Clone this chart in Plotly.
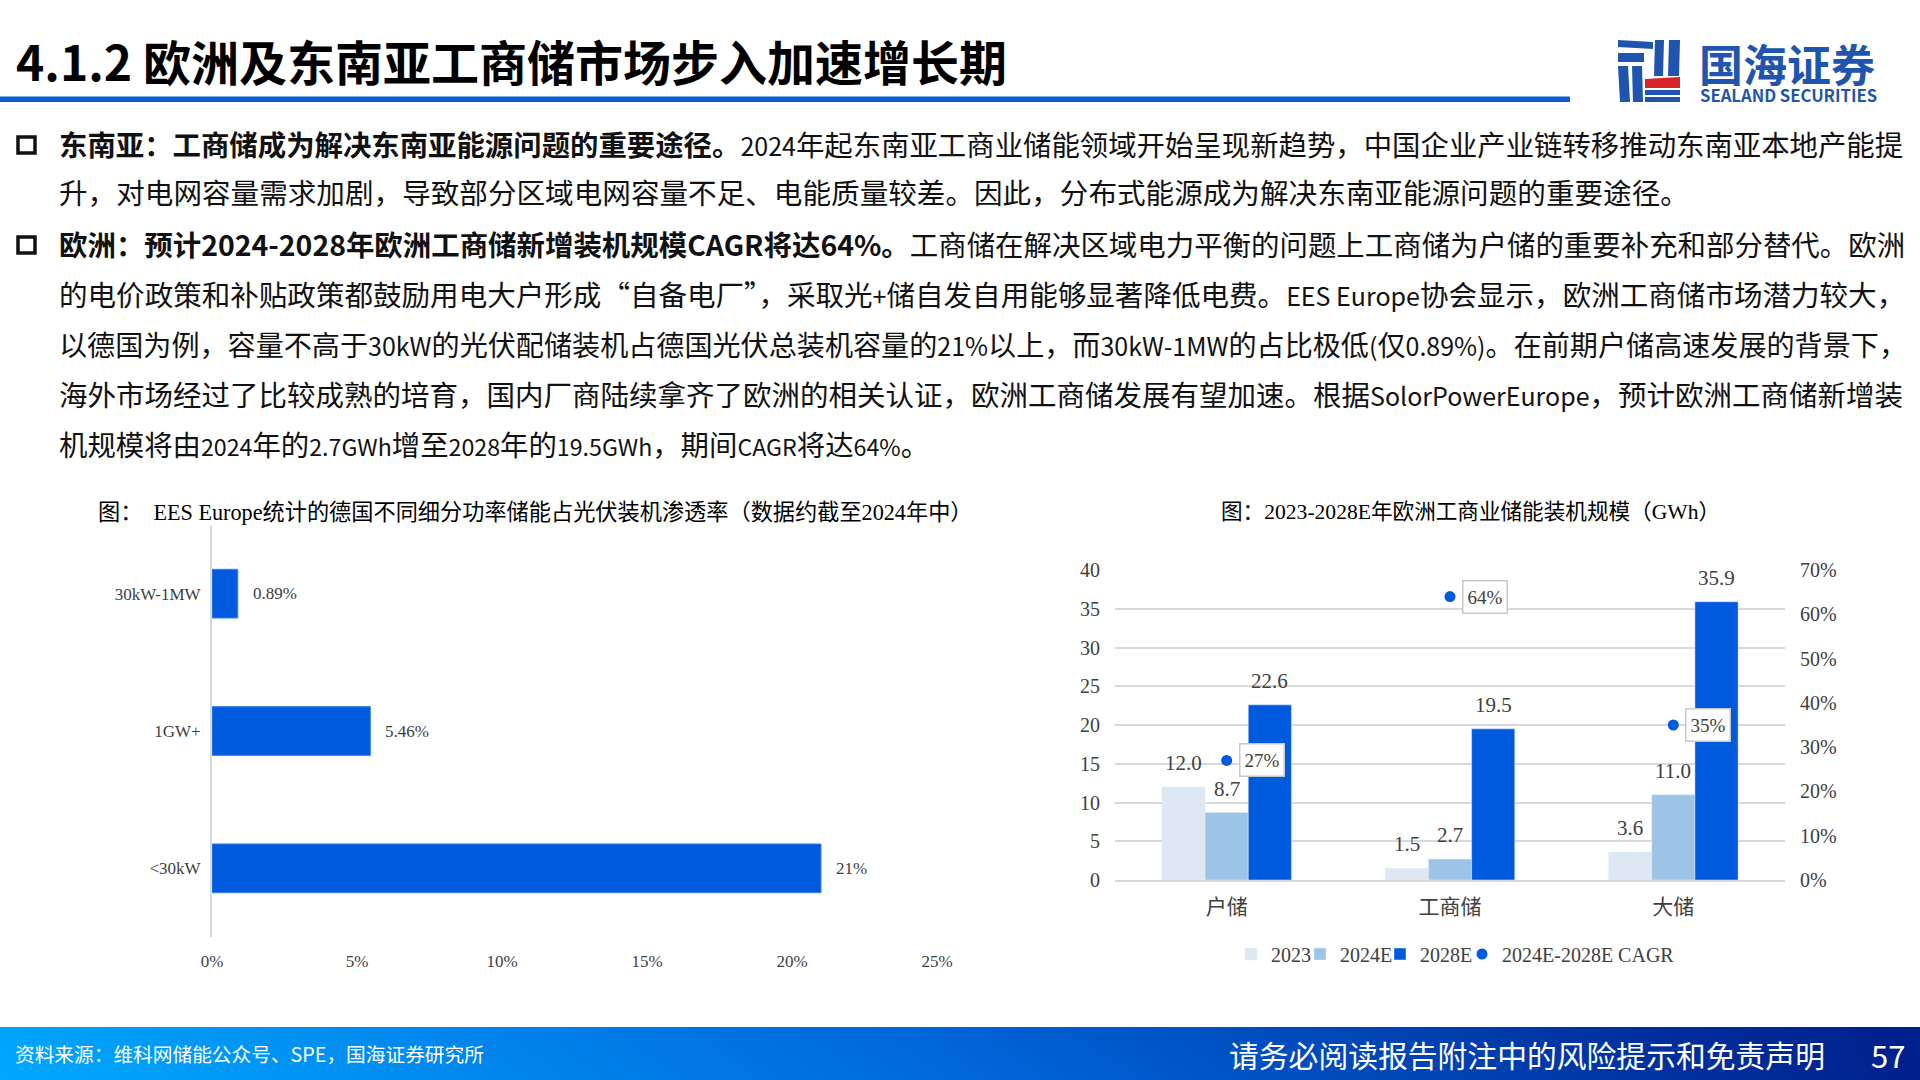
# plot.py
import re
import plotly.graph_objects as go

W, H = 1920, 1080
SANS = "Noto Sans CJK SC"
SONG = "Liberation Serif, Noto Sans CJK SC"
BLUE = "#005ADE"
MID_BLUE = "#9DC3E6"
PALE_BLUE = "#DEE8F5"
GRID = "#D9D9D9"
TEXT = "#404040"

# slide text
page_title = "4.1.2 欧洲及东南亚工商储市场步入加速增长期"
body_lines = [
    "<b>东南亚：工商储成为解决东南亚能源问题的重要途径。</b>2024年起东南亚工商业储能领域开始呈现新趋势，中国企业产业链转移推动东南亚本地产能提",
    "升，对电网容量需求加剧，导致部分区域电网容量不足、电能质量较差。因此，分布式能源成为解决东南亚能源问题的重要途径。",
    "<b>欧洲：预计2024-2028年欧洲工商储新增装机规模CAGR将达64%。</b>工商储在解决区域电力平衡的问题上工商储为户储的重要补充和部分替代。欧洲",
    "的电价政策和补贴政策都鼓励用电大户形成“自备电厂”，采取光+储自发自用能够显著降低电费。EES Europe协会显示，欧洲工商储市场潜力较大，",
    "以德国为例，容量不高于30kW的光伏配储装机占德国光伏总装机容量的21%以上，而30kW-1MW的占比极低(仅0.89%)。在前期户储高速发展的背景下，",
    "海外市场经过了比较成熟的培育，国内厂商陆续拿齐了欧洲的相关认证，欧洲工商储发展有望加速。根据SolorPowerEurope，预计欧洲工商储新增装",
    "机规模将由2024年的2.7GWh增至2028年的19.5GWh，期间CAGR将达64%。",
]
left_title = "图：  EES Europe统计的德国不同细分功率储能占光伏装机渗透率（数据约截至2024年中）"
right_title = "图：2023-2028E年欧洲工商业储能装机规模（GWh）"
source_text = "资料来源：维科网储能公众号、SPE，国海证券研究所"
disclaimer = "请务必阅读报告附注中的风险提示和免责声明"
page_number = "57"

# left chart
power_classes = ["<30kW", "1GW+", "30kW-1MW"]
penetration = [21, 5.46, 0.89]

# right chart
segments = ["户储", "工商储", "大储"]
years = ["2023", "2024E", "2028E"]
capacity_2023 = [12.0, 1.5, 3.6]
capacity_2024 = [8.7, 2.7, 11.0]
capacity_2028 = [22.6, 19.5, 35.9]
cagr_name = "2024E-2028E CAGR"
cagr = [27, 64, 35]

# footer gradient stops
footer_z = [[0, 0.12, 0.25, 0.38, 0.5, 0.62, 0.75, 0.88, 1],
            [0.04, 0.16, 0.29, 0.42, 0.54, 0.66, 0.79, 0.92, 1]]


def px(x):
    return x / W


def py(y):
    return 1 - y / H


def note(text, x, y, size, color="#000000", family=SANS, anchor="left"):
    return dict(text=text, x=px(x), y=py(y), xref="paper", yref="paper",
                xanchor=anchor, yanchor="middle", align=anchor, showarrow=False,
                font=dict(family=family, size=size, color=color))


def poly(points, color):
    path = "M" + " L".join("%.5f,%.5f" % (px(a), py(b)) for a, b in points) + " Z"
    return dict(type="path", xref="paper", yref="paper", path=path,
                fillcolor=color, line=dict(width=0), layer="above")


def narrow_latin(line, size):
    # latin runs in the regular part of a line are set narrower, as on the slide
    parts = re.split(r"(<b>.*?</b>)", line)
    out = []
    for part in parts:
        if part.startswith("<b>"):
            out.append(part)
        else:
            out.append(re.sub(r"[0-9A-Za-z.%+\-() ]+",
                              lambda m: '<span style="font-size:%spx">%s</span>' % (size, m.group(0)), part))
    return "".join(out)


fig = go.Figure()

# left chart
fig.add_trace(go.Bar(
    y=power_classes, x=penetration, orientation="h", width=0.355,
    marker=dict(color=BLUE, line=dict(color="#3D85E8", width=1)),
    showlegend=False, xaxis="x", yaxis="y",
))

# right chart, each entry has its own legend box so it can sit where the slide has it
bar_colors = [PALE_BLUE, MID_BLUE, BLUE]
bar_series = [capacity_2023, capacity_2024, capacity_2028]
legend_ids = ["legend", "legend2", "legend3"]
for name, vals, col, lg in zip(years, bar_series, bar_colors, legend_ids):
    fig.add_trace(go.Bar(
        x=segments, y=vals, name=name, marker=dict(color=col), legend=lg,
        xaxis="x2", yaxis="y2",
    ))
fig.add_trace(go.Scatter(
    x=segments, y=cagr, name=cagr_name, mode="markers", legend="legend4",
    marker=dict(color=BLUE, size=11), xaxis="x2", yaxis="y3",
))

# footer band
fig.add_trace(go.Heatmap(
    z=footer_z, zsmooth="best", showscale=False, hoverinfo="skip",
    colorscale=[[0, "#00A8FF"], [0.5, "#0068DC"], [1, "#00208C"]],
    xaxis="x3", yaxis="y4",
))

annotations = []

# page text
annotations.append(note("<b>" + page_title + "</b>", 14, 60, 48))
body_y = [143.5, 191.5, 244, 293.5, 343, 393, 443]
body_size = [28.4, 28.6, 28.45, 28.55, 28.1, 28.5, 28.4]
latin_size = [25, 25, 25, 25, 25, 25, 23.2]
for line, y, size, lsize in zip(body_lines, body_y, body_size, latin_size):
    annotations.append(note(narrow_latin(line, lsize), 57, y, size, color="#111111"))
annotations.append(note(left_title, 96, 512, 22.2, family=SONG))
annotations.append(note(right_title, 1219, 512, 21.6, family=SONG))
annotations.append(note(source_text, 13, 1053, 19.7, color="#FFFFFF"))
annotations.append(note(disclaimer, 1227, 1054, 29.8, color="#FFFFFF"))
annotations.append(note(page_number, 1869, 1054, 31, color="#FFFFFF"))

# logo text
annotations.append(note("<b>国海证券</b>", 1697, 63, 44, color="#1F55AE"))
annotations.append(note("<b>SEALAND SECURITIES</b>", 1698, 94.5, 16.7, color="#1F55AE"))

# left chart value labels
for cat, v in zip(power_classes, penetration):
    annotations.append(dict(
        text="%s%%" % v, x=v, y=cat, xref="x", yref="y", xanchor="left", yanchor="middle",
        xshift=13, showarrow=False, font=dict(family=SONG, size=17, color=TEXT),
    ))

# right chart value labels, one per bar
bar_step = 0.1935
for k, vals in enumerate(bar_series):
    for i, v in enumerate(vals):
        annotations.append(dict(
            text="%.1f" % v, x=i + (k - 1) * bar_step, y=v, xref="x2", yref="y2",
            xanchor="center", yanchor="bottom", yshift=10, showarrow=False,
            font=dict(family=SONG, size=21, color=TEXT),
        ))

# CAGR boxes
for i, v in enumerate(cagr):
    annotations.append(dict(
        text="%d%%" % v, x=i, y=v, xref="x2", yref="y3", xanchor="center", yanchor="middle",
        xshift=35, width=41, height=29, bgcolor="#FFFFFF", bordercolor="#C8C8C8", borderwidth=1.5,
        showarrow=False, font=dict(family=SONG, size=19, color=TEXT),
    ))

# title rule, bullets and logo mark
shapes = [
    dict(type="rect", xref="paper", yref="paper", x0=0, x1=px(1570), y0=py(102), y1=py(96.5),
         fillcolor="#0B5FD6", line=dict(width=0)),
]
for y in [145, 245]:
    shapes.append(dict(type="rect", xref="paper", yref="paper", x0=px(18), x1=px(35), y0=py(y + 8), y1=py(y - 8),
                       fillcolor="rgba(0,0,0,0)", line=dict(color="#111111", width=3.5)))

LOGO = "#1F55AE"
shapes += [
    poly([(1618, 40), (1653, 42), (1653, 49), (1618, 47)], LOGO),
    poly([(1618, 53), (1644, 53), (1644, 62), (1618, 62)], LOGO),
    poly([(1618, 66), (1628, 66), (1630, 102), (1620, 102)], LOGO),
    poly([(1632, 66), (1642, 66), (1643, 102), (1633, 102)], LOGO),
    poly([(1655, 40), (1664, 40), (1663, 76), (1654, 76)], LOGO),
    poly([(1669, 40), (1680, 40), (1679, 76), (1668, 76)], LOGO),
    poly([(1645, 79), (1680, 77), (1680, 88), (1645, 88)], "#D8232A"),
    poly([(1645, 90), (1680, 90), (1680, 95), (1645, 95)], LOGO),
    poly([(1645, 97), (1680, 97), (1680, 102), (1645, 102)], LOGO),
]


def legend_at(x):
    return dict(orientation="h", x=px(x), y=py(954), xanchor="left", yanchor="middle",
                font=dict(family=SONG, size=20, color=TEXT), bgcolor="rgba(0,0,0,0)")


fig.update_layout(
    width=W, height=H,
    margin=dict(l=0, r=0, t=0, b=0, autoexpand=False),
    paper_bgcolor="#FFFFFF", plot_bgcolor="#FFFFFF",
    barmode="group", bargap=0.42, bargroupgap=0,
    annotations=annotations, shapes=shapes,
    legend=legend_at(1231), legend2=legend_at(1300), legend3=legend_at(1380), legend4=legend_at(1462),
    # left chart axes
    xaxis=dict(domain=[px(212), px(937)], range=[0, 25], dtick=5, ticksuffix="%", showgrid=False,
               zeroline=False, anchor="y", ticklabelstandoff=12, fixedrange=True,
               tickfont=dict(family=SONG, size=17, color=TEXT)),
    yaxis=dict(domain=[py(937), py(525)], type="category", categoryorder="array",
               categoryarray=power_classes, showline=True, linecolor=GRID, linewidth=2,
               showgrid=False, anchor="x", ticklabelstandoff=6, fixedrange=True,
               tickfont=dict(family=SONG, size=17, color=TEXT)),
    # right chart axes
    xaxis2=dict(domain=[px(1115), px(1785)], anchor="y2", categoryorder="array", categoryarray=segments,
                showline=True, linecolor=GRID, linewidth=2, ticklabelstandoff=7, fixedrange=True,
                tickfont=dict(family=SONG, size=21, color=TEXT)),
    yaxis2=dict(domain=[py(880), py(570)], range=[0, 40], dtick=5, anchor="x2", gridcolor=GRID, gridwidth=1.5,
                zeroline=False, ticklabelstandoff=14, fixedrange=True,
                tickfont=dict(family=SONG, size=20, color=TEXT)),
    yaxis3=dict(range=[0, 70], dtick=10, ticksuffix="%", overlaying="y2", side="right", anchor="x2",
                showgrid=False, zeroline=False, ticklabelstandoff=14, fixedrange=True,
                tickfont=dict(family=SONG, size=20, color=TEXT)),
    # footer band axes
    xaxis3=dict(domain=[0, 1], anchor="y4", visible=False, range=[0, 8], fixedrange=True),
    yaxis4=dict(domain=[0, 53 / H], anchor="x3", visible=False, range=[0, 1], fixedrange=True),
)

fig.write_html("out.html", config=dict(displayModeBar=False),
               post_script="document.body.style.margin='0';")
